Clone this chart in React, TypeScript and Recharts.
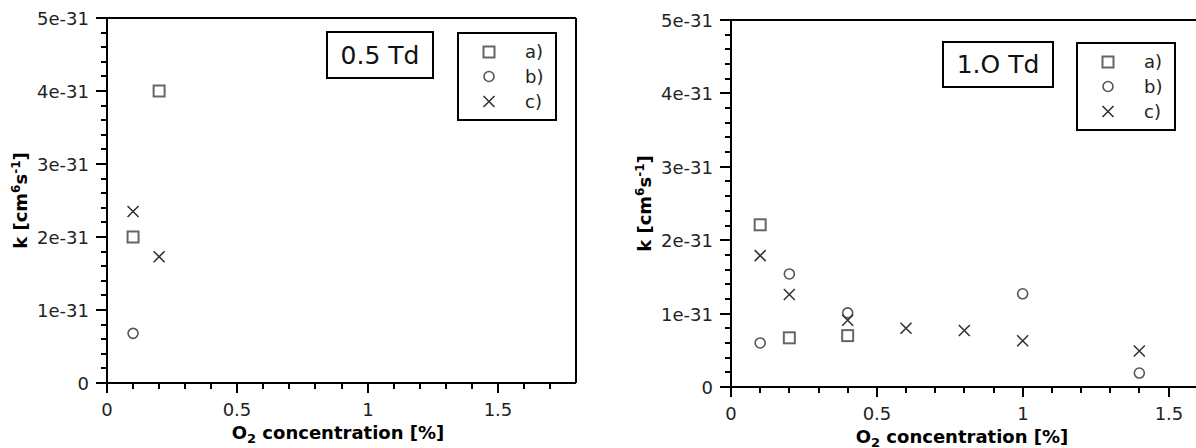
import React from "react";
import { Legend, ReferenceLine, Scatter, ScatterChart, XAxis, YAxis } from "recharts";

const FONT = "DejaVu Sans";

// O2 concentration [%] and rate constant k [cm^6 s^-1]
const leftAx = [0.1, 0.2];
const leftAk = [2.0e-31, 4.0e-31];
const leftBx = [0.1];
const leftBk = [0.68e-31];
const leftCx = [0.1, 0.2];
const leftCk = [2.35e-31, 1.73e-31];

const rightAx = [0.1, 0.2, 0.4];
const rightAk = [2.21e-31, 0.67e-31, 0.7e-31];
const rightBx = [0.1, 0.2, 0.4, 1.0, 1.4];
const rightBk = [0.6e-31, 1.54e-31, 1.01e-31, 1.27e-31, 0.19e-31];
const rightCx = [0.1, 0.2, 0.4, 0.6, 0.8, 1.0, 1.4];
const rightCk = [1.79e-31, 1.26e-31, 0.91e-31, 0.8e-31, 0.77e-31, 0.63e-31, 0.49e-31];

const seriesNames = ["a)", "b)", "c)"];
const markerKinds = ["square", "circle", "x"];
const panelTitles = ["0.5 Td", "1.O Td"];

const xTicks = [0, 0.1, 0.2, 0.3, 0.4, 0.5, 0.6, 0.7, 0.8, 0.9, 1, 1.1, 1.2, 1.3, 1.4, 1.5, 1.6, 1.7];
const xMajorTicks = [0, 0.5, 1, 1.5];
const yTicks = [
  0, 2e-32, 4e-32, 6e-32, 8e-32, 1e-31, 1.2e-31, 1.4e-31, 1.6e-31, 1.8e-31, 2e-31, 2.2e-31, 2.4e-31,
  2.6e-31, 2.8e-31, 3e-31, 3.2e-31, 3.4e-31, 3.6e-31, 3.8e-31, 4e-31, 4.2e-31, 4.4e-31, 4.6e-31, 4.8e-31, 5e-31,
];
const yMajorLabels = ["0", "1e-31", "2e-31", "3e-31", "4e-31", "5e-31"];

const zip = (xs: number[], ks: number[]) => xs.map((x, i) => ({ x, k: ks[i] }));

function Marker({ kind, cx, cy }: { kind: string; cx: number; cy: number }) {
  if (kind === "square") {
    return <rect x={cx - 5.5} y={cy - 5.5} width={11} height={11} fill="none" stroke="#666" strokeWidth={2} />;
  }
  if (kind === "circle") {
    return <circle cx={cx} cy={cy} r={5} fill="none" stroke="#555" strokeWidth={1.6} />;
  }
  const d = 5.5;
  return (
    <path
      d={`M${cx - d},${cy - d}L${cx + d},${cy + d}M${cx + d},${cy - d}L${cx - d},${cy + d}`}
      stroke="#333"
      strokeWidth={1.6}
      fill="none"
    />
  );
}

function XTick(props: any) {
  const { y, payload } = props;
  const x = Math.round(props.x);
  const major = xMajorTicks.includes(payload.value);
  return (
    <g>
      <line x1={x} x2={x} y1={y} y2={y + (major ? 10 : 6)} stroke="#000" strokeWidth={2} />
      {major && (
        <text x={x} y={y + 33} textAnchor="middle" fontSize={18} fill="#222" fontFamily={FONT}>
          {String(payload.value)}
        </text>
      )}
    </g>
  );
}

function YTick(props: any) {
  const { x, payload } = props;
  const y = Math.round(props.y);
  const n = payload.value / 1e-31;
  const major = Math.abs(n - Math.round(n)) < 1e-6;
  return (
    <g>
      <line x1={x} x2={x - (major ? 11 : 6)} y1={y} y2={y} stroke="#000" strokeWidth={2} />
      {major && (
        <text x={x - 18} y={y + 7} textAnchor="end" fontSize={18} fill="#222" fontFamily={FONT}>
          {yMajorLabels[Math.round(n)]}
        </text>
      )}
    </g>
  );
}

function XTitle(props: any) {
  const { x, y } = props.viewBox;
  return (
    <text x={x + 231} y={y + 56} textAnchor="middle" fontSize={18} fontWeight="bold" fill="#000" fontFamily={FONT}>
      O
      <tspan fontSize={13} dy={4}>
        2
      </tspan>
      <tspan dy={-4}>{" concentration [%]"}</tspan>
    </text>
  );
}

function YTitle(props: any) {
  const { x, y, width, height } = props.viewBox;
  const tx = x + width - 80;
  const ty = y + height / 2;
  return (
    <text
      transform={`translate(${tx},${ty}) rotate(-90)`}
      textAnchor="middle"
      fontSize={18}
      fontWeight="bold"
      fill="#000"
      fontFamily={FONT}
    >
      k [cm
      <tspan fontSize={12} dy={-7}>
        6
      </tspan>
      <tspan dy={7}>s</tspan>
      <tspan fontSize={12} dy={-7}>
        -1
      </tspan>
      <tspan dy={7}>]</tspan>
    </text>
  );
}

function LegendBox(props: any) {
  const payload: any[] = props.payload && props.payload.length ? props.payload : seriesNames.map((value) => ({ value }));
  const rows = [20, 44.5, 69.5];
  return (
    <svg width={100} height={89} style={{ display: "block" }}>
      <rect x={1} y={1} width={98} height={87} fill="#fff" stroke="#000" strokeWidth={2} />
      {payload.map((entry, i) => {
        const idx = seriesNames.indexOf(entry.value);
        return (
          <g key={entry.value}>
            <Marker kind={markerKinds[idx]} cx={32} cy={rows[i]} />
            <text x={68} y={rows[i] + 6} fontSize={18} fill="#222" fontFamily={FONT}>
              {entry.value}
            </text>
          </g>
        );
      })}
    </svg>
  );
}

function Panel({
  left,
  width,
  margin,
  series,
  legendLeft,
  legendTop,
}: {
  left: number;
  width: number;
  margin: { top: number; right: number; left: number; bottom: number };
  series: Array<Array<{ x: number; k: number }>>;
  legendLeft: number;
  legendTop: number;
}) {
  return (
    <div style={{ position: "absolute", left, top: 0 }}>
      <ScatterChart width={width} height={448} margin={margin}>
        <XAxis
          type="number"
          dataKey="x"
          domain={[0, 1.8]}
          ticks={xTicks}
          interval={0}
          tick={<XTick />}
          tickSize={0}
          tickMargin={0}
          tickLine={false}
          axisLine={{ stroke: "#000", strokeWidth: 2 }}
          height={30}
          label={(p: any) => <XTitle {...p} />}
        />
        <YAxis
          type="number"
          dataKey="k"
          domain={[0, 5e-31]}
          ticks={yTicks}
          interval={0}
          tick={<YTick />}
          tickSize={0}
          tickMargin={0}
          tickLine={false}
          axisLine={{ stroke: "#000", strokeWidth: 2 }}
          width={60}
          label={(p: any) => <YTitle {...p} />}
        />
        <ReferenceLine y={5e-31} stroke="#000" strokeWidth={2} />
        <ReferenceLine x={1.8} stroke="#000" strokeWidth={2} />
        {series.map((data, i) => (
          <Scatter
            key={seriesNames[i]}
            name={seriesNames[i]}
            data={data}
            isAnimationActive={false}
            shape={(p: any) => <Marker kind={markerKinds[i]} cx={p.cx} cy={p.cy} />}
          />
        ))}
        <Legend
          content={LegendBox}
          layout="horizontal"
          verticalAlign="middle"
          align="center"
          wrapperStyle={{ left: legendLeft, top: legendTop, width: 100, height: 89 }}
        />
      </ScatterChart>
    </div>
  );
}

const titleBox: React.CSSProperties = {
  position: "absolute",
  boxSizing: "border-box",
  border: "2px solid #000",
  background: "#fff",
  display: "flex",
  alignItems: "center",
  justifyContent: "center",
  fontFamily: FONT,
  fontSize: 25,
  color: "#111",
};

export default function App() {
  return (
    <div
      style={{
        position: "absolute",
        left: 0,
        top: 0,
        width: 1196,
        height: 448,
        overflow: "hidden",
        background: "#fff",
      }}
    >
      <Panel
        left={0}
        width={600}
        margin={{ top: 18, right: 24, left: 47, bottom: 35 }}
        series={[zip(leftAx, leftAk), zip(leftBx, leftBk), zip(leftCx, leftCk)]}
        legendLeft={457}
        legendTop={32}
      />
      <Panel
        left={600}
        width={676}
        margin={{ top: 20, right: 20, left: 71, bottom: 31 }}
        series={[zip(rightAx, rightAk), zip(rightBx, rightBk), zip(rightCx, rightCk)]}
        legendLeft={476}
        legendTop={42}
      />
      <div style={{ ...titleBox, left: 326, top: 31, width: 108, height: 48 }}>{panelTitles[0]}</div>
      <div style={{ ...titleBox, left: 942, top: 41, width: 112, height: 47 }}>{panelTitles[1]}</div>
    </div>
  );
}
